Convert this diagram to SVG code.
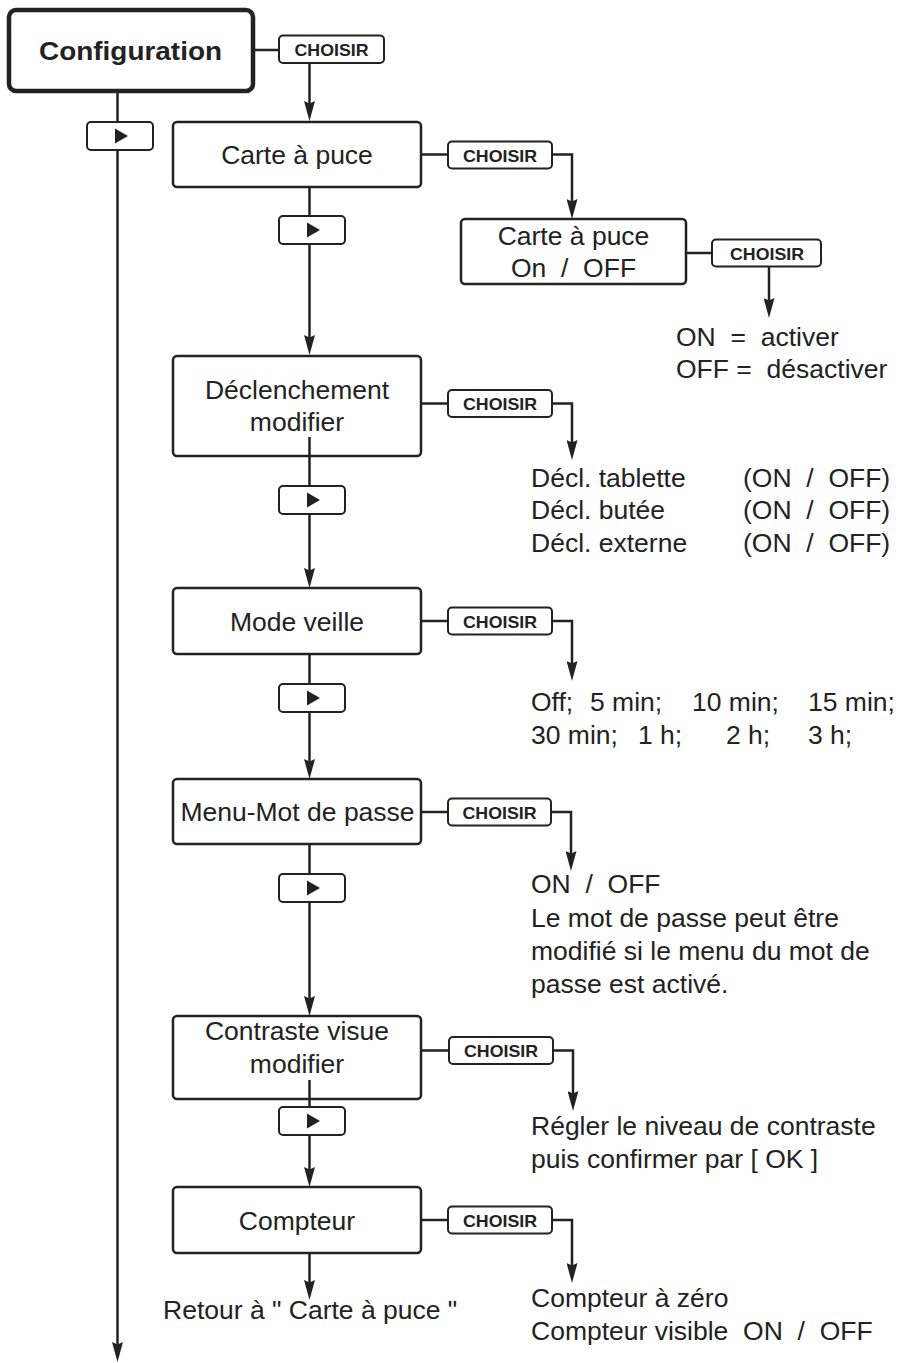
<svg xmlns="http://www.w3.org/2000/svg" xmlns:xlink="http://www.w3.org/1999/xlink" width="898" height="1363" viewBox="0 0 898 1363">
<style>
  .box { fill: #fff; stroke: #222; stroke-width: 2.5; }
  .main { fill: #fff; stroke: #222; stroke-width: 4.5; }
  .btn { fill: #fff; stroke: #222; stroke-width: 2; }
  .ln { fill: none; stroke: #222; stroke-width: 2.5; }
  .t { font-family: "Liberation Sans", Arial, sans-serif; font-size: 26.5px; fill: #222; }
  .c { text-anchor: middle; }
  .b { font-weight: bold; }
  .btxt { font-family: "Liberation Sans", Arial, sans-serif; font-size: 16.5px; font-weight: bold; fill: #222; text-anchor: middle; }
  .pre { white-space: pre; }
</style>
<defs>
  <marker id="arr" viewBox="0 0 20 11" refX="12" refY="5.5" markerWidth="20" markerHeight="11" markerUnits="userSpaceOnUse" orient="auto">
    <path d="M0,0 L20,5.5 L0,11 L2.5,5.5 z" fill="#222"/>
  </marker>
  <g id="play">
    <rect class="btn" x="0" y="0" width="66" height="28" rx="4"/>
    <polygon points="28,6.5 41,14 28,21.5" fill="#222"/>
  </g>
</defs>

<g id="configuration">
  <rect class="main" x="9" y="10" width="244" height="81" rx="7"/>
  <text class="t c b" x="130.5" y="60" font-size="26" textLength="183" lengthAdjust="spacingAndGlyphs">Configuration</text>
</g>
<g id="carte">
  <rect class="box" x="173" y="122" width="248" height="65" rx="4"/>
  <text class="t c" x="297" y="164">Carte à puce</text>
</g>
<g id="carte-onoff">
  <rect class="box" x="461" y="219" width="225" height="65" rx="4"/>
  <text class="t c" x="573.5" y="245">Carte à puce</text>
  <text class="t c pre" x="573.5" y="277">On  /  OFF</text>
</g>
<g id="onoff-text">
  <text class="t pre" x="676" y="346">ON  =  activer</text>
  <text class="t pre" x="676" y="378">OFF =  désactiver</text>
</g>
<g id="declenchement">
  <rect class="box" x="173" y="356" width="248" height="100" rx="4"/>
  <text class="t c" x="297" y="399">Déclenchement</text>
  <text class="t c" x="297" y="431">modifier</text>
</g>
<g id="decl-text">
  <text class="t" x="531" y="487">Décl. tablette</text>
  <text class="t pre" x="743" y="487">(ON  /  OFF)</text>
  <text class="t" x="531" y="519">Décl. butée</text>
  <text class="t pre" x="743" y="519">(ON  /  OFF)</text>
  <text class="t" x="531" y="552">Décl. externe</text>
  <text class="t pre" x="743" y="552">(ON  /  OFF)</text>
</g>
<g id="veille">
  <rect class="box" x="173" y="588" width="248" height="66" rx="4"/>
  <text class="t c" x="297" y="631">Mode veille</text>
</g>
<g id="veille-text">
  <text class="t" y="711"><tspan x="531">Off;</tspan><tspan x="590">5 min;</tspan><tspan x="692">10 min;</tspan><tspan x="808">15 min;</tspan></text>
  <text class="t" y="744"><tspan x="531">30 min;</tspan><tspan x="638">1 h;</tspan><tspan x="726">2 h;</tspan><tspan x="808">3 h;</tspan></text>
</g>
<g id="motdepasse">
  <rect class="box" x="173" y="779" width="248" height="65" rx="4"/>
  <text class="t c" x="297.5" y="821">Menu-Mot de passe</text>
</g>
<g id="mdp-text">
  <text class="t pre" x="531" y="893">ON  /  OFF</text>
  <text class="t" x="531" y="927">Le mot de passe peut être</text>
  <text class="t" x="531" y="960">modifié si le menu du mot de</text>
  <text class="t" x="531" y="993">passe est activé.</text>
</g>
<g id="contraste">
  <rect class="box" x="173" y="1016" width="248" height="83" rx="4"/>
  <text class="t c" x="297" y="1040">Contraste visue</text>
  <text class="t c" x="297" y="1073">modifier</text>
</g>
<g id="contraste-text">
  <text class="t" x="531" y="1135">Régler le niveau de contraste</text>
  <text class="t" x="531" y="1168">puis confirmer par [ OK ]</text>
</g>
<g id="compteur">
  <rect class="box" x="173" y="1187" width="248" height="66" rx="4"/>
  <text class="t c" x="297" y="1230">Compteur</text>
</g>
<g id="compteur-text">
  <text class="t" x="531" y="1307">Compteur à zéro</text>
  <text class="t pre" x="531" y="1340">Compteur visible  ON  /  OFF</text>
</g>
<g id="retour">
  <text class="t" x="163" y="1319">Retour à " Carte à puce "</text>
</g>

<g id="connectors">
  <path class="ln" d="M253,50 H279"/>
  <path class="ln" d="M309.5,63 V113" marker-end="url(#arr)"/>
  <path class="ln" d="M117.5,92 V1354" marker-end="url(#arr)"/>
  <path class="ln" d="M421,154.5 H448"/>
  <path class="ln" d="M552,154.5 H572 V211" marker-end="url(#arr)"/>
  <path class="ln" d="M686,253 H712"/>
  <path class="ln" d="M769,266 V310" marker-end="url(#arr)"/>
  <path class="ln" d="M309.5,187 V347" marker-end="url(#arr)"/>
  <path class="ln" d="M421,403.5 H448"/>
  <path class="ln" d="M552,403.5 H572 V452" marker-end="url(#arr)"/>
  <path class="ln" d="M309.5,437 V580" marker-end="url(#arr)"/>
  <path class="ln" d="M421,621 H448"/>
  <path class="ln" d="M552,621 H572 V673" marker-end="url(#arr)"/>
  <path class="ln" d="M309.5,654 V771" marker-end="url(#arr)"/>
  <path class="ln" d="M421,812 H448"/>
  <path class="ln" d="M552,812 H571 V863" marker-end="url(#arr)"/>
  <path class="ln" d="M309.5,844 V1008" marker-end="url(#arr)"/>
  <path class="ln" d="M421,1050.5 H449"/>
  <path class="ln" d="M553,1050.5 H573 V1103" marker-end="url(#arr)"/>
  <path class="ln" d="M309.5,1080 V1179" marker-end="url(#arr)"/>
  <path class="ln" d="M421,1220 H448"/>
  <path class="ln" d="M552,1220 H572 V1275" marker-end="url(#arr)"/>
  <path class="ln" d="M309.5,1253 V1292" marker-end="url(#arr)"/>
</g>

<g id="choisir-config">
  <rect class="btn" x="279" y="35.5" width="105" height="27.5" rx="4"/>
  <text class="btxt" x="331.5" y="55.5" textLength="74" lengthAdjust="spacingAndGlyphs">CHOISIR</text>
</g>
<g id="next-config"><use xlink:href="#play" x="87" y="122"/></g>
<g id="choisir-carte">
  <rect class="btn" x="448" y="141.5" width="104" height="27" rx="4"/>
  <text class="btxt" x="500" y="161.5" textLength="74" lengthAdjust="spacingAndGlyphs">CHOISIR</text>
</g>
<g id="next-carte"><use xlink:href="#play" x="279" y="216"/></g>
<g id="choisir-onoff">
  <rect class="btn" x="712" y="239.5" width="109" height="27" rx="4"/>
  <text class="btxt" x="767" y="259.5" textLength="74" lengthAdjust="spacingAndGlyphs">CHOISIR</text>
</g>
<g id="choisir-decl">
  <rect class="btn" x="448" y="390" width="104" height="27" rx="4"/>
  <text class="btxt" x="500" y="410" textLength="74" lengthAdjust="spacingAndGlyphs">CHOISIR</text>
</g>
<g id="next-decl"><use xlink:href="#play" x="279" y="486"/></g>
<g id="choisir-veille">
  <rect class="btn" x="448" y="607.5" width="104" height="27" rx="4"/>
  <text class="btxt" x="500" y="627.5" textLength="74" lengthAdjust="spacingAndGlyphs">CHOISIR</text>
</g>
<g id="next-veille"><use xlink:href="#play" x="279" y="684"/></g>
<g id="choisir-mdp">
  <rect class="btn" x="448" y="798.5" width="103" height="27" rx="4"/>
  <text class="btxt" x="499.5" y="818.5" textLength="74" lengthAdjust="spacingAndGlyphs">CHOISIR</text>
</g>
<g id="next-mdp"><use xlink:href="#play" x="279" y="874"/></g>
<g id="choisir-contraste">
  <rect class="btn" x="449" y="1037" width="104" height="27" rx="4"/>
  <text class="btxt" x="501" y="1057" textLength="74" lengthAdjust="spacingAndGlyphs">CHOISIR</text>
</g>
<g id="next-contraste"><use xlink:href="#play" x="279" y="1107"/></g>
<g id="choisir-compteur">
  <rect class="btn" x="448" y="1206.5" width="104" height="27" rx="4"/>
  <text class="btxt" x="500" y="1226.5" textLength="74" lengthAdjust="spacingAndGlyphs">CHOISIR</text>
</g>
</svg>
